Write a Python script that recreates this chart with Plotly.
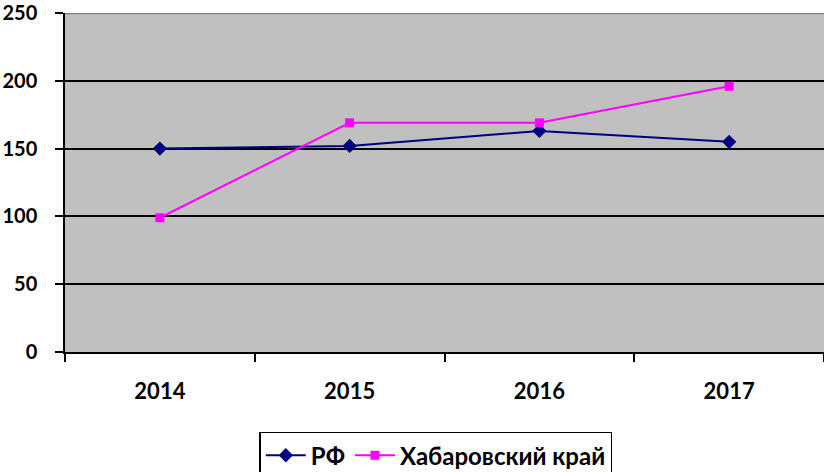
import plotly.graph_objects as go

years = ["2014", "2015", "2016", "2017"]
rf_values = [150, 152, 163, 155]
khab_values = [99, 169, 169, 196]
series_names = ["РФ", "Хабаровский край"]
y_ticks = [0, 50, 100, 150, 200, 250]

FONT = "Lato, 'Open Sans', sans-serif"

fig = go.Figure()
fig.add_trace(go.Scatter(
    x=years, y=rf_values, name=series_names[0], mode="lines+markers",
    line=dict(color="#000080", width=2),
    marker=dict(symbol="diamond", size=11, color="#000080"),
))
fig.add_trace(go.Scatter(
    x=years, y=khab_values, name=series_names[1], mode="lines+markers",
    line=dict(color="#FF00FF", width=2),
    marker=dict(symbol="square", size=9, color="#FF00FF"),
))

# grey top border of plot area
fig.add_shape(type="line", xref="paper", yref="y", x0=0, x1=1, y0=250, y1=250,
              line=dict(color="#808080", width=2.5), layer="above")

fig.update_layout(
    width=824, height=472,
    margin=dict(l=65, r=0, t=13, b=120, autoexpand=False),
    paper_bgcolor="white", plot_bgcolor="#C0C0C0",
    font=dict(family=FONT, size=20, color="black"),
    showlegend=True,
    legend=dict(
        orientation="h", xref="paper", yref="paper",
        x=0.256, y=-0.235, xanchor="left", yanchor="top",
        bordercolor="black", borderwidth=1.5, bgcolor="white",
        font=dict(family=FONT, size=24, color="black", weight="bold"),
        itemwidth=40, tracegroupgap=0,
    ),
)
fig.update_xaxes(
    type="category", range=[-0.5, 3.5], tickson="boundaries", automargin=False,
    showline=True, linecolor="black", linewidth=1.5,
    ticks="outside", ticklen=8, tickcolor="black", tickwidth=1.5,
    showgrid=False, ticklabelstandoff=19,
    tickfont=dict(family=FONT, size=22, color="black", weight="bold"),
)
fig.update_yaxes(
    range=[0, 250], tickvals=y_ticks, ticklabeloverflow="allow", automargin=False,
    showline=True, linecolor="black", linewidth=1.5,
    ticks="outside", ticklen=8, tickcolor="black", tickwidth=1.5,
    showgrid=True, gridcolor="black", gridwidth=1.5,
    zeroline=False, ticklabelstandoff=14,
    tickfont=dict(family=FONT, size=20, color="black", weight="bold"),
)

fig.write_html("out.html", config={"displayModeBar": False},
               post_script="document.body.style.margin='0';")
